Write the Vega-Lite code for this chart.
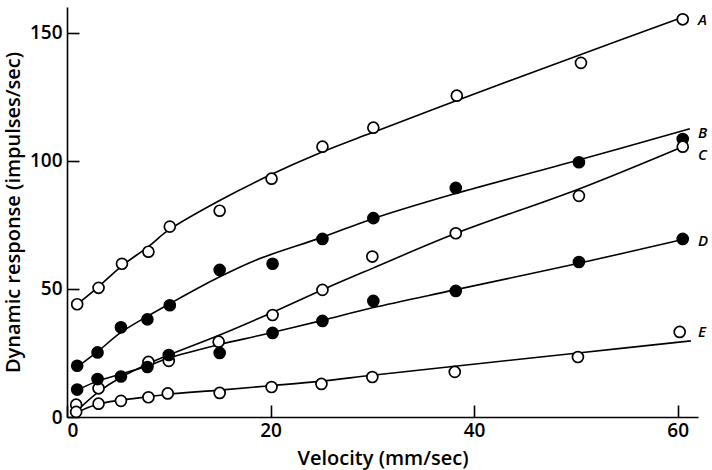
{
  "$schema": "https://vega.github.io/schema/vega-lite/v6.json",
  "width": 631,
  "height": 410,
  "autosize": "none",
  "padding": {"left": 67, "top": 7, "right": 14, "bottom": 53},
  "background": "white",
  "config": {
    "view": {"stroke": null},
    "font": "Open Sans",
    "axis": {
      "grid": false,
      "domainColor": "black",
      "domainWidth": 1.6,
      "tickColor": "black",
      "tickWidth": 1.6,
      "tickSize": -12,
      "labelFont": "Open Sans",
      "labelFontWeight": 600,
      "labelFontSize": 19,
      "labelColor": "black",
      "titleFont": "Open Sans",
      "titleFontWeight": 600,
      "titleFontSize": 20,
      "titleColor": "black"
    }
  },
  "datasets": {
    "curves": [
      {"series": "A", "velocity": 1, "response": 44},
      {"series": "A", "velocity": 3, "response": 50.5},
      {"series": "A", "velocity": 5.4, "response": 59},
      {"series": "A", "velocity": 8, "response": 66.5},
      {"series": "A", "velocity": 10, "response": 73},
      {"series": "A", "velocity": 15, "response": 84.5},
      {"series": "A", "velocity": 20, "response": 94.5},
      {"series": "A", "velocity": 25, "response": 103.3},
      {"series": "A", "velocity": 30, "response": 111},
      {"series": "A", "velocity": 36.6, "response": 121},
      {"series": "A", "velocity": 50.5, "response": 141.5},
      {"series": "A", "velocity": 60.5, "response": 156},
      {"series": "B", "velocity": 1, "response": 19.5},
      {"series": "B", "velocity": 3, "response": 25.5},
      {"series": "B", "velocity": 5.3, "response": 33},
      {"series": "B", "velocity": 8, "response": 39.5},
      {"series": "B", "velocity": 10, "response": 44},
      {"series": "B", "velocity": 15, "response": 54.7},
      {"series": "B", "velocity": 18.6, "response": 61.3},
      {"series": "B", "velocity": 25, "response": 70},
      {"series": "B", "velocity": 30, "response": 77.3},
      {"series": "B", "velocity": 38, "response": 87},
      {"series": "B", "velocity": 50, "response": 100},
      {"series": "B", "velocity": 61.2, "response": 112.5},
      {"series": "C", "velocity": 1, "response": 2.5},
      {"series": "C", "velocity": 3, "response": 9.5},
      {"series": "C", "velocity": 5.3, "response": 15.5},
      {"series": "C", "velocity": 8, "response": 20.8},
      {"series": "C", "velocity": 10, "response": 24.2},
      {"series": "C", "velocity": 15, "response": 32},
      {"series": "C", "velocity": 20, "response": 40.5},
      {"series": "C", "velocity": 25, "response": 49.5},
      {"series": "C", "velocity": 30, "response": 58},
      {"series": "C", "velocity": 38.1, "response": 71.5},
      {"series": "C", "velocity": 50.3, "response": 89},
      {"series": "C", "velocity": 60.5, "response": 105.5},
      {"series": "D", "velocity": 1, "response": 10.5},
      {"series": "D", "velocity": 3, "response": 14},
      {"series": "D", "velocity": 5.3, "response": 16.8},
      {"series": "D", "velocity": 8, "response": 20},
      {"series": "D", "velocity": 10, "response": 23},
      {"series": "D", "velocity": 15, "response": 28.3},
      {"series": "D", "velocity": 18.9, "response": 31.8},
      {"series": "D", "velocity": 25, "response": 37.6},
      {"series": "D", "velocity": 30, "response": 42.6},
      {"series": "D", "velocity": 38.1, "response": 49.6},
      {"series": "D", "velocity": 50.3, "response": 60},
      {"series": "D", "velocity": 60.5, "response": 69.3},
      {"series": "E", "velocity": 0.8, "response": 1.5},
      {"series": "E", "velocity": 3, "response": 5},
      {"series": "E", "velocity": 5.3, "response": 6.6},
      {"series": "E", "velocity": 8, "response": 7.9},
      {"series": "E", "velocity": 10, "response": 8.9},
      {"series": "E", "velocity": 15, "response": 10.5},
      {"series": "E", "velocity": 20, "response": 12.2},
      {"series": "E", "velocity": 25, "response": 14},
      {"series": "E", "velocity": 30, "response": 16.3},
      {"series": "E", "velocity": 38.1, "response": 19.8},
      {"series": "E", "velocity": 50.2, "response": 25},
      {"series": "E", "velocity": 61.3, "response": 29.7}
    ],
    "points": [
      {"series": "A", "marker": "open", "velocity": 1, "response": 44},
      {"series": "A", "marker": "open", "velocity": 3.1, "response": 50.4},
      {"series": "A", "marker": "open", "velocity": 5.4, "response": 59.8},
      {"series": "A", "marker": "open", "velocity": 8, "response": 64.5},
      {"series": "A", "marker": "open", "velocity": 10.1, "response": 74.3},
      {"series": "A", "marker": "open", "velocity": 15, "response": 80.5},
      {"series": "A", "marker": "open", "velocity": 20.1, "response": 93},
      {"series": "A", "marker": "open", "velocity": 25.1, "response": 105.5},
      {"series": "A", "marker": "open", "velocity": 30.1, "response": 112.9},
      {"series": "A", "marker": "open", "velocity": 38.3, "response": 125.4},
      {"series": "A", "marker": "open", "velocity": 50.5, "response": 138.2},
      {"series": "A", "marker": "open", "velocity": 60.5, "response": 155.2},
      {"series": "B", "marker": "filled", "velocity": 1, "response": 20},
      {"series": "B", "marker": "filled", "velocity": 3, "response": 25.2},
      {"series": "B", "marker": "filled", "velocity": 5.3, "response": 35},
      {"series": "B", "marker": "filled", "velocity": 7.9, "response": 38.1},
      {"series": "B", "marker": "filled", "velocity": 10.1, "response": 43.6},
      {"series": "B", "marker": "filled", "velocity": 15, "response": 57.4},
      {"series": "B", "marker": "filled", "velocity": 20.2, "response": 59.8},
      {"series": "B", "marker": "filled", "velocity": 25.1, "response": 69.5},
      {"series": "B", "marker": "filled", "velocity": 30.1, "response": 77.6},
      {"series": "B", "marker": "filled", "velocity": 38.2, "response": 89.4},
      {"series": "B", "marker": "filled", "velocity": 50.3, "response": 99.4},
      {"series": "B", "marker": "filled", "velocity": 60.5, "response": 108.5},
      {"series": "C", "marker": "open", "velocity": 0.9, "response": 4.8},
      {"series": "C", "marker": "open", "velocity": 3.1, "response": 11.2},
      {"series": "C", "marker": "open", "velocity": 8, "response": 21.5},
      {"series": "C", "marker": "open", "velocity": 10, "response": 21.9},
      {"series": "C", "marker": "open", "velocity": 14.9, "response": 29.4},
      {"series": "C", "marker": "open", "velocity": 20.2, "response": 39.8},
      {"series": "C", "marker": "open", "velocity": 25.1, "response": 49.6},
      {"series": "C", "marker": "open", "velocity": 30, "response": 62.6},
      {"series": "C", "marker": "open", "velocity": 38.2, "response": 71.7},
      {"series": "C", "marker": "open", "velocity": 50.3, "response": 86.3},
      {"series": "C", "marker": "open", "velocity": 60.5, "response": 105.5},
      {"series": "D", "marker": "filled", "velocity": 1, "response": 10.7},
      {"series": "D", "marker": "filled", "velocity": 3, "response": 14.8},
      {"series": "D", "marker": "filled", "velocity": 5.3, "response": 15.8},
      {"series": "D", "marker": "filled", "velocity": 7.9, "response": 19.5},
      {"series": "D", "marker": "filled", "velocity": 10, "response": 24.2},
      {"series": "D", "marker": "filled", "velocity": 15, "response": 25},
      {"series": "D", "marker": "filled", "velocity": 20.2, "response": 32.8},
      {"series": "D", "marker": "filled", "velocity": 25.1, "response": 37.5},
      {"series": "D", "marker": "filled", "velocity": 30.1, "response": 45.3},
      {"series": "D", "marker": "filled", "velocity": 38.2, "response": 49.2},
      {"series": "D", "marker": "filled", "velocity": 50.3, "response": 60.5},
      {"series": "D", "marker": "filled", "velocity": 60.5, "response": 69.5},
      {"series": "E", "marker": "open", "velocity": 0.9, "response": 2},
      {"series": "E", "marker": "open", "velocity": 3.1, "response": 5.2},
      {"series": "E", "marker": "open", "velocity": 5.3, "response": 6.3},
      {"series": "E", "marker": "open", "velocity": 8, "response": 7.7},
      {"series": "E", "marker": "open", "velocity": 9.9, "response": 9.2},
      {"series": "E", "marker": "open", "velocity": 15, "response": 9.4},
      {"series": "E", "marker": "open", "velocity": 20.1, "response": 11.7},
      {"series": "E", "marker": "open", "velocity": 25, "response": 12.9},
      {"series": "E", "marker": "open", "velocity": 30, "response": 15.6},
      {"series": "E", "marker": "open", "velocity": 38.1, "response": 17.6},
      {"series": "E", "marker": "open", "velocity": 50.2, "response": 23.4},
      {"series": "E", "marker": "open", "velocity": 60.2, "response": 33.2}
    ],
    "labels": [
      {"series": "A", "velocity": 62, "response": 155},
      {"series": "B", "velocity": 62, "response": 111},
      {"series": "C", "velocity": 62, "response": 102.3},
      {"series": "D", "velocity": 62, "response": 68.6},
      {"series": "E", "velocity": 62, "response": 33}
    ]
  },
  "encoding": {
    "x": {
      "field": "velocity",
      "type": "quantitative",
      "scale": {"domain": [0, 62], "nice": false, "zero": false},
      "axis": {"values": [0, 20, 40, 60], "title": "Velocity (mm/sec)", "labelPadding": 16, "titlePadding": 8}
    },
    "y": {
      "field": "response",
      "type": "quantitative",
      "scale": {"domain": [0, 160], "nice": false, "zero": false},
      "axis": {"values": [0, 50, 100, 150], "title": "Dynamic response (impulses/sec)", "labelPadding": 17, "titlePadding": 6}
    }
  },
  "layer": [
    {
      "data": {"name": "curves"},
      "mark": {"type": "line", "interpolate": "catmull-rom", "color": "black", "strokeWidth": 1.6, "clip": false},
      "encoding": {"detail": {"field": "series"}}
    },
    {
      "data": {"name": "points"},
      "mark": {"type": "point", "shape": "circle", "size": 120, "stroke": "black", "strokeWidth": 1.7, "opacity": 1, "filled": true, "clip": false},
      "encoding": {
        "fill": {"field": "marker", "type": "nominal", "scale": {"domain": ["open", "filled"], "range": ["white", "black"]}, "legend": null}
      }
    },
    {
      "data": {"name": "labels"},
      "mark": {"type": "text", "align": "left", "baseline": "middle", "font": "Open Sans", "fontSize": 15, "fontStyle": "italic", "fontWeight": 600, "color": "black", "clip": false},
      "encoding": {"text": {"field": "series"}}
    }
  ]
}
